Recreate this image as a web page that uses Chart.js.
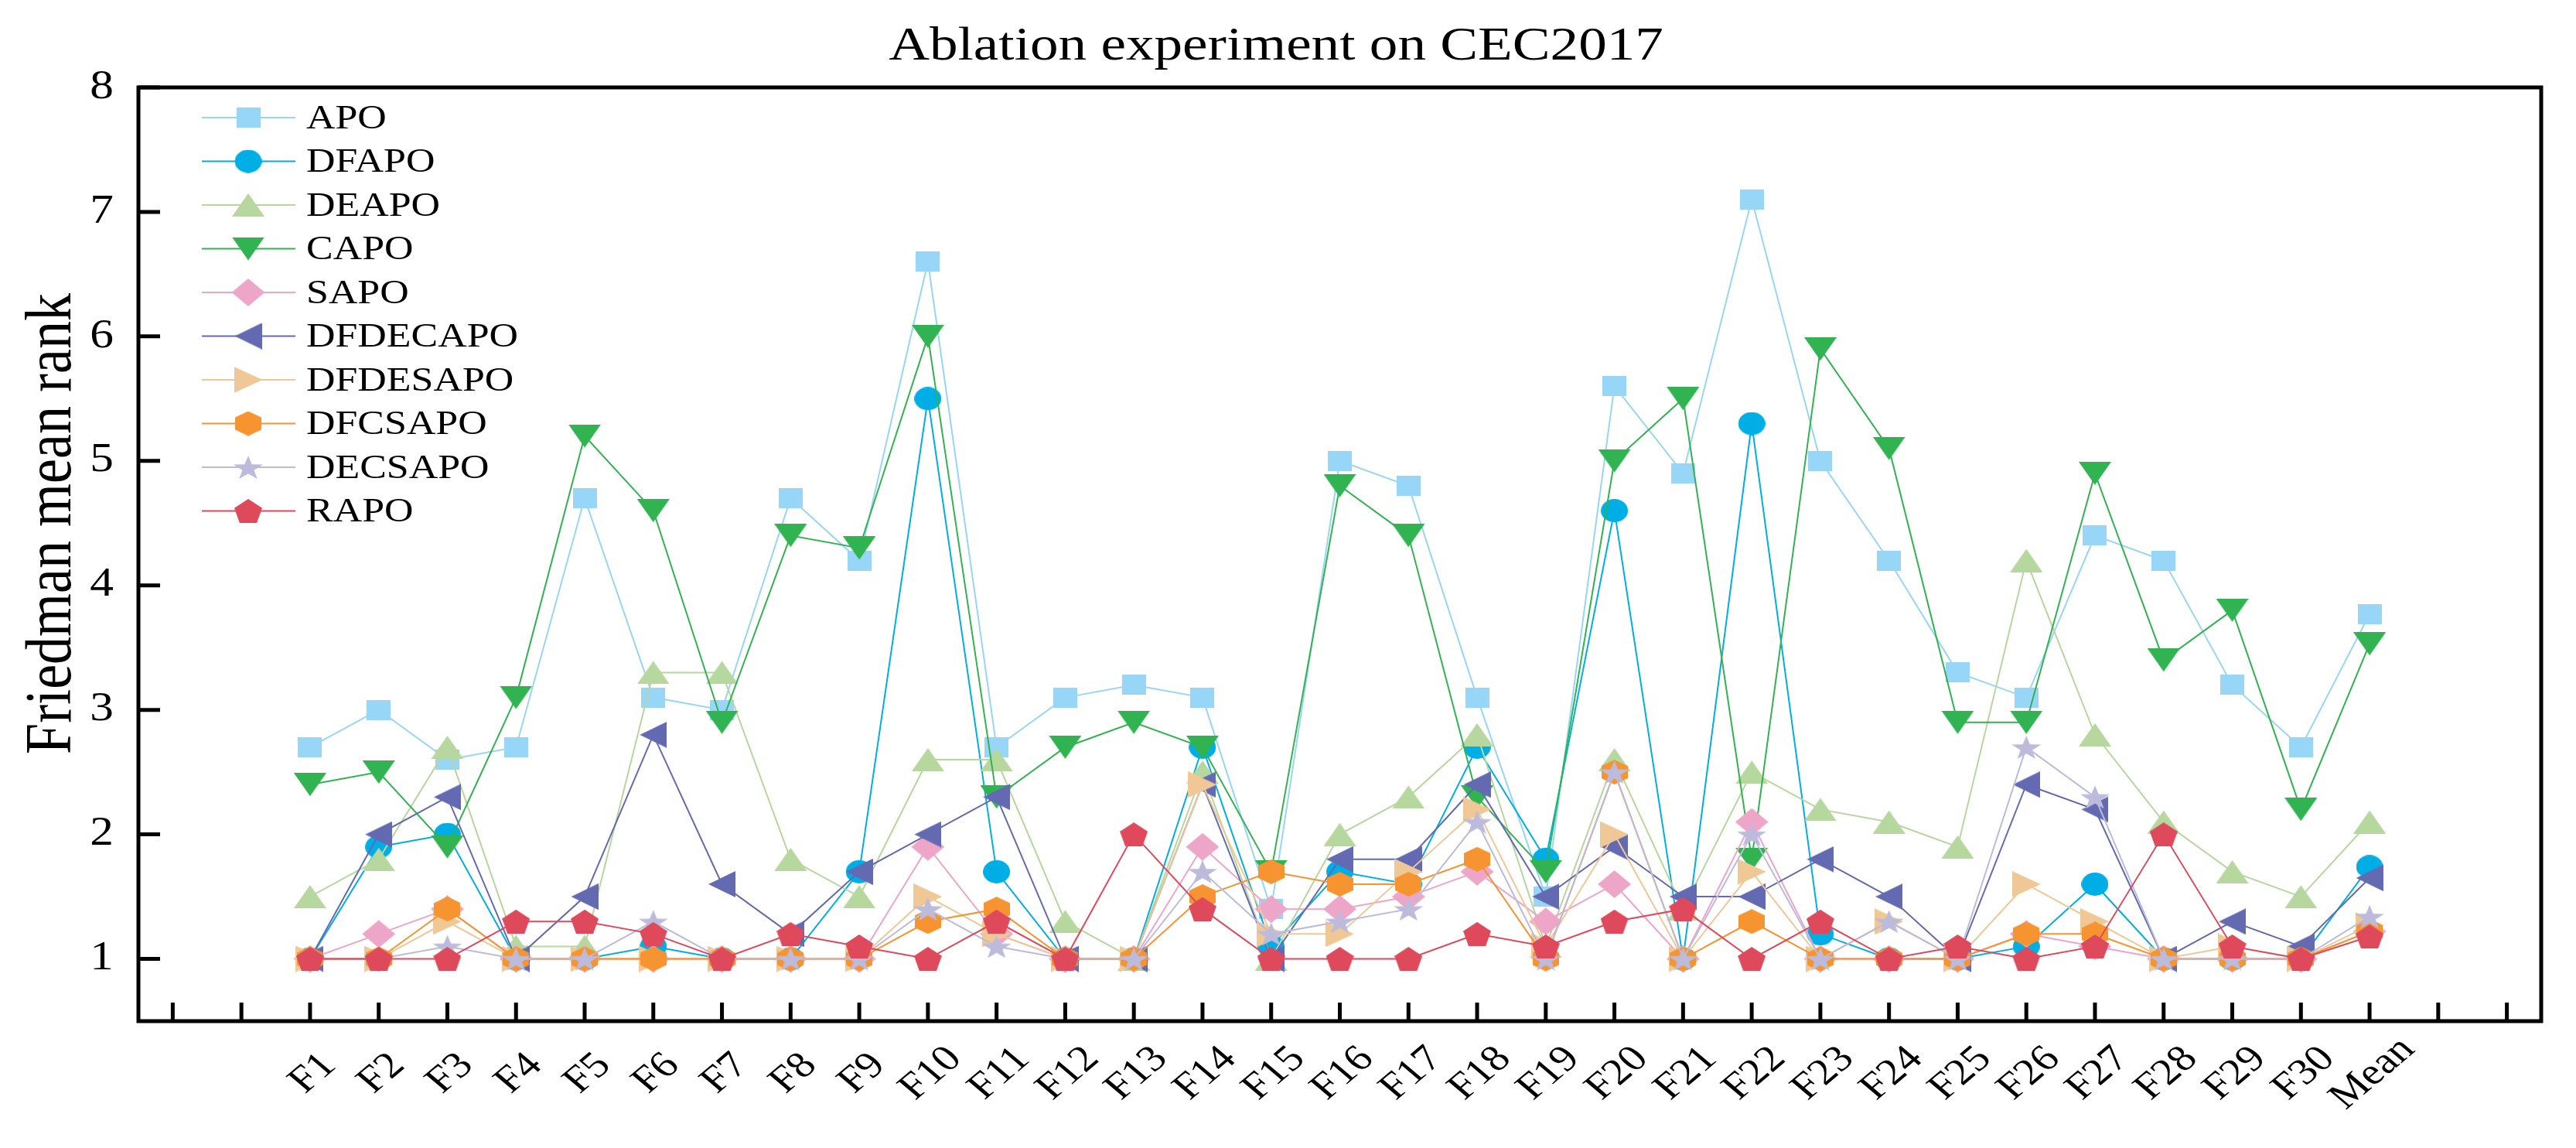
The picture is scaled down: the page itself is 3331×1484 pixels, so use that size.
<!DOCTYPE html>
<html>
<head>
<meta charset="utf-8">
<title>Ablation experiment on CEC2017</title>
<script src="https://cdn.jsdelivr.net/npm/chart.js@4.4.1/dist/chart.umd.min.js"></script>
<style>
  html, body { margin: 0; padding: 0; background: #fff; }
  #wrap { width: 3331px; height: 1484px; }
</style>
</head>
<body>
<div id="wrap"><canvas id="chart" width="3331" height="1484"></canvas></div>
<script>
// data
const categories = ['F1', 'F2', 'F3', 'F4', 'F5', 'F6', 'F7', 'F8', 'F9', 'F10',
  'F11', 'F12', 'F13', 'F14', 'F15', 'F16', 'F17', 'F18', 'F19', 'F20',
  'F21', 'F22', 'F23', 'F24', 'F25', 'F26', 'F27', 'F28', 'F29', 'F30', 'Mean'];

const seriesNames = ['APO', 'DFAPO', 'DEAPO', 'CAPO', 'SAPO', 'DFDECAPO',
  'DFDESAPO', 'DFCSAPO', 'DECSAPO', 'RAPO'];

const APO      = [2.7, 3.0, 2.6, 2.7, 4.7, 3.1, 3.0, 4.7, 4.2, 6.6, 2.7, 3.1, 3.2, 3.1, 1.4, 5.0, 4.8, 3.1, 1.5, 5.6, 4.9, 7.1, 5.0, 4.2, 3.3, 3.1, 4.4, 4.2, 3.2, 2.7, 3.77];
const DFAPO    = [1.0, 1.9, 2.0, 1.0, 1.0, 1.1, 1.0, 1.0, 1.7, 5.5, 1.7, 1.0, 1.0, 2.7, 1.1, 1.7, 1.6, 2.7, 1.8, 4.6, 1.0, 5.3, 1.2, 1.0, 1.0, 1.1, 1.6, 1.0, 1.0, 1.0, 1.74];
const DEAPO    = [1.5, 1.8, 2.7, 1.1, 1.1, 3.3, 3.3, 1.8, 1.5, 2.6, 2.6, 1.3, 1.0, 2.5, 1.0, 2.0, 2.3, 2.8, 1.1, 2.6, 1.4, 2.5, 2.2, 2.1, 1.9, 4.2, 2.8, 2.1, 1.7, 1.5, 2.10];
const CAPO     = [2.4, 2.5, 1.9, 3.1, 5.2, 4.6, 2.9, 4.4, 4.3, 6.0, 2.3, 2.7, 2.9, 2.7, 1.7, 4.8, 4.4, 2.3, 1.7, 5.0, 5.5, 1.8, 5.9, 5.1, 2.9, 2.9, 4.9, 3.4, 3.8, 2.2, 3.53];
const SAPO     = [1.0, 1.2, 1.4, 1.0, 1.0, 1.0, 1.0, 1.0, 1.0, 1.9, 1.2, 1.0, 1.0, 1.9, 1.4, 1.4, 1.5, 1.7, 1.3, 1.6, 1.0, 2.1, 1.0, 1.0, 1.0, 1.2, 1.1, 1.0, 1.0, 1.0, 1.22];
const DFDECAPO = [1.0, 2.0, 2.3, 1.0, 1.5, 2.8, 1.6, 1.2, 1.7, 2.0, 2.3, 1.0, 1.0, 2.4, 1.0, 1.8, 1.8, 2.4, 1.5, 1.9, 1.5, 1.5, 1.8, 1.5, 1.0, 2.4, 2.2, 1.0, 1.3, 1.1, 1.65];
const DFDESAPO = [1.0, 1.0, 1.3, 1.0, 1.0, 1.0, 1.0, 1.0, 1.0, 1.5, 1.2, 1.0, 1.0, 2.4, 1.2, 1.2, 1.7, 2.2, 1.1, 2.0, 1.0, 1.7, 1.0, 1.3, 1.0, 1.6, 1.3, 1.0, 1.1, 1.0, 1.27];
const DFCSAPO  = [1.0, 1.0, 1.4, 1.0, 1.0, 1.0, 1.0, 1.0, 1.0, 1.3, 1.4, 1.0, 1.0, 1.5, 1.7, 1.6, 1.6, 1.8, 1.0, 2.5, 1.0, 1.3, 1.0, 1.0, 1.0, 1.2, 1.2, 1.0, 1.0, 1.0, 1.22];
const DECSAPO  = [1.0, 1.0, 1.1, 1.0, 1.0, 1.3, 1.0, 1.0, 1.0, 1.4, 1.1, 1.0, 1.0, 1.7, 1.2, 1.3, 1.4, 2.1, 1.0, 2.5, 1.0, 2.0, 1.0, 1.3, 1.0, 2.7, 2.3, 1.0, 1.0, 1.0, 1.34];
const RAPO     = [1.0, 1.0, 1.0, 1.3, 1.3, 1.2, 1.0, 1.2, 1.1, 1.0, 1.3, 1.0, 2.0, 1.4, 1.0, 1.0, 1.0, 1.2, 1.1, 1.3, 1.4, 1.0, 1.3, 1.0, 1.1, 1.0, 1.1, 2.0, 1.1, 1.0, 1.18];

const seriesValues = [APO, DFAPO, DEAPO, CAPO, SAPO, DFDECAPO, DFDESAPO, DFCSAPO, DECSAPO, RAPO];

const yTicks = [1, 2, 3, 4, 5, 6, 7, 8];
const xTicks = [-2, -1, 0, 1, 2, 3, 4, 5, 6, 7, 8, 9, 10, 11, 12, 13, 14, 15, 16,
  17, 18, 19, 20, 21, 22, 23, 24, 25, 26, 27, 28, 29, 30, 31, 32];

// look
const colors = ['#97D6F6', '#00AEE6', '#B6D79E', '#30B350', '#EEA6C8',
  '#636AB2', '#F0C896', '#F69431', '#BCBBDC', '#DE4A5C'];
const shapes = ['square', 'circle', 'up', 'down', 'diamond', 'left', 'right', 'hexagon', 'star', 'pentagon'];
const markerSize = { // w, h in px
  square: [31, 26], circle: [35, 30], up: [42, 30], down: [42, 30], diamond: [43, 36],
  left: [35, 34], right: [37, 34], hexagon: [34, 32], star: [38, 30], pentagon: [36, 31]
};

const FONT = '"Liberation Serif", "Times New Roman", Times, serif';
const SX = 1.18; // the picture's text is a little wide

function regular(n, inner) {
  const pts = [];
  const k = inner ? 2 * n : n;
  for (let i = 0; i < k; i++) {
    const a = -Math.PI / 2 + i * 2 * Math.PI / k;
    const r = inner && i % 2 ? inner : 1;
    pts.push([r * Math.cos(a), r * Math.sin(a)]);
  }
  const xs = pts.map(p => p[0]), ys = pts.map(p => p[1]);
  const x0 = Math.min(...xs), x1 = Math.max(...xs), y0 = Math.min(...ys), y1 = Math.max(...ys);
  return pts.map(p => [(p[0] - x0) / (x1 - x0), (p[1] - y0) / (y1 - y0)]);
}

const outlines = {
  square: [[0, 0], [1, 0], [1, 1], [0, 1]],
  up: [[0.5, 0], [1, 1], [0, 1]],
  down: [[0, 0], [1, 0], [0.5, 1]],
  left: [[0, 0.5], [1, 0], [1, 1]],
  right: [[0, 0], [1, 0.5], [0, 1]],
  diamond: [[0.5, 0], [1, 0.5], [0.5, 1], [0, 0.5]],
  hexagon: regular(6),
  pentagon: regular(5),
  star: regular(5, 0.4)
};

function makeMarker(shape, color) {
  const [w, h] = markerSize[shape];
  const c = document.createElement('canvas');
  c.width = w;
  c.height = h;
  const g = c.getContext('2d');
  g.fillStyle = color;
  g.beginPath();
  if (shape === 'circle') {
    g.ellipse(w / 2, h / 2, w / 2, h / 2, 0, 0, 2 * Math.PI);
  } else {
    outlines[shape].forEach(([x, y], i) => i ? g.lineTo(x * w, y * h) : g.moveTo(x * w, y * h));
    g.closePath();
  }
  g.fill();
  return c;
}

const markers = shapes.map((s, i) => makeMarker(s, colors[i]));

function txt(ctx, str, x, y, size, align, baseline, angle) {
  ctx.save();
  ctx.translate(x, y);
  ctx.scale(SX, 1);
  if (angle) ctx.rotate(angle);
  ctx.font = size + 'px ' + FONT;
  ctx.textAlign = align;
  ctx.textBaseline = baseline;
  ctx.fillStyle = '#000';
  ctx.fillText(str, 0, 0);
  ctx.restore();
}

const framePlugin = {
  id: 'frame',
  afterDraw(chart) {
    const ctx = chart.ctx;
    const a = chart.chartArea;
    const xs = chart.scales.x, ys = chart.scales.y;

    // legend inside the plot
    seriesNames.forEach((name, i) => {
      const y = 152 + i * 56.5;
      ctx.save();
      ctx.strokeStyle = colors[i];
      ctx.lineWidth = 2;
      ctx.beginPath();
      ctx.moveTo(261, y);
      ctx.lineTo(382, y);
      ctx.stroke();
      const m = markers[i];
      ctx.drawImage(m, 321 - m.width / 2, y - m.height / 2);
      ctx.restore();
      txt(ctx, name, 396, y + 2, 44, 'left', 'middle');
    });

    // box and inward ticks
    ctx.save();
    ctx.strokeStyle = '#000';
    ctx.lineWidth = 5;
    ctx.strokeRect(a.left, a.top, a.right - a.left, a.bottom - a.top);
    ctx.beginPath();
    yTicks.forEach(v => {
      const y = ys.getPixelForValue(v);
      ctx.moveTo(a.left, y);
      ctx.lineTo(a.left + 28, y);
    });
    xTicks.forEach(v => {
      const x = xs.getPixelForValue(v);
      ctx.moveTo(x, a.bottom);
      ctx.lineTo(x, a.bottom - 24);
    });
    ctx.stroke();
    ctx.restore();

    yTicks.forEach(v => txt(ctx, String(v), 147, ys.getPixelForValue(v), 52, 'right', 'middle'));
    categories.forEach((c, i) => {
      txt(ctx, c, xs.getPixelForValue(i) + 4, 1388, 48, 'center', 'middle', -Math.PI / 4);
    });

    txt(ctx, 'Friedman mean rank', 91, 677, 72, 'center', 'alphabetic', -Math.PI / 2);
    txt(ctx, 'Ablation experiment on CEC2017', 1650, 77, 62, 'center', 'alphabetic');
  }
};

const datasets = seriesNames.map((name, i) => ({
  label: name,
  data: categories.map((c, j) => ({ x: j, y: seriesValues[i][j] })),
  borderColor: colors[i],
  backgroundColor: colors[i],
  borderWidth: 2,
  pointStyle: markers[i],
  pointRadius: 5,
  tension: 0,
  order: seriesNames.length - i
}));

new Chart(document.getElementById('chart'), {
  type: 'line',
  data: { datasets },
  options: {
    responsive: false,
    animation: false,
    events: [],
    layout: { padding: { left: 179, right: 45, top: 113, bottom: 164 } },
    plugins: { legend: { display: false }, title: { display: false }, tooltip: { enabled: false } },
    scales: {
      x: { type: 'linear', min: -2.5, max: 32.5, display: false },
      y: { type: 'linear', min: 0.5, max: 8, display: false }
    }
  },
  plugins: [framePlugin]
});
</script>
</body>
</html>
